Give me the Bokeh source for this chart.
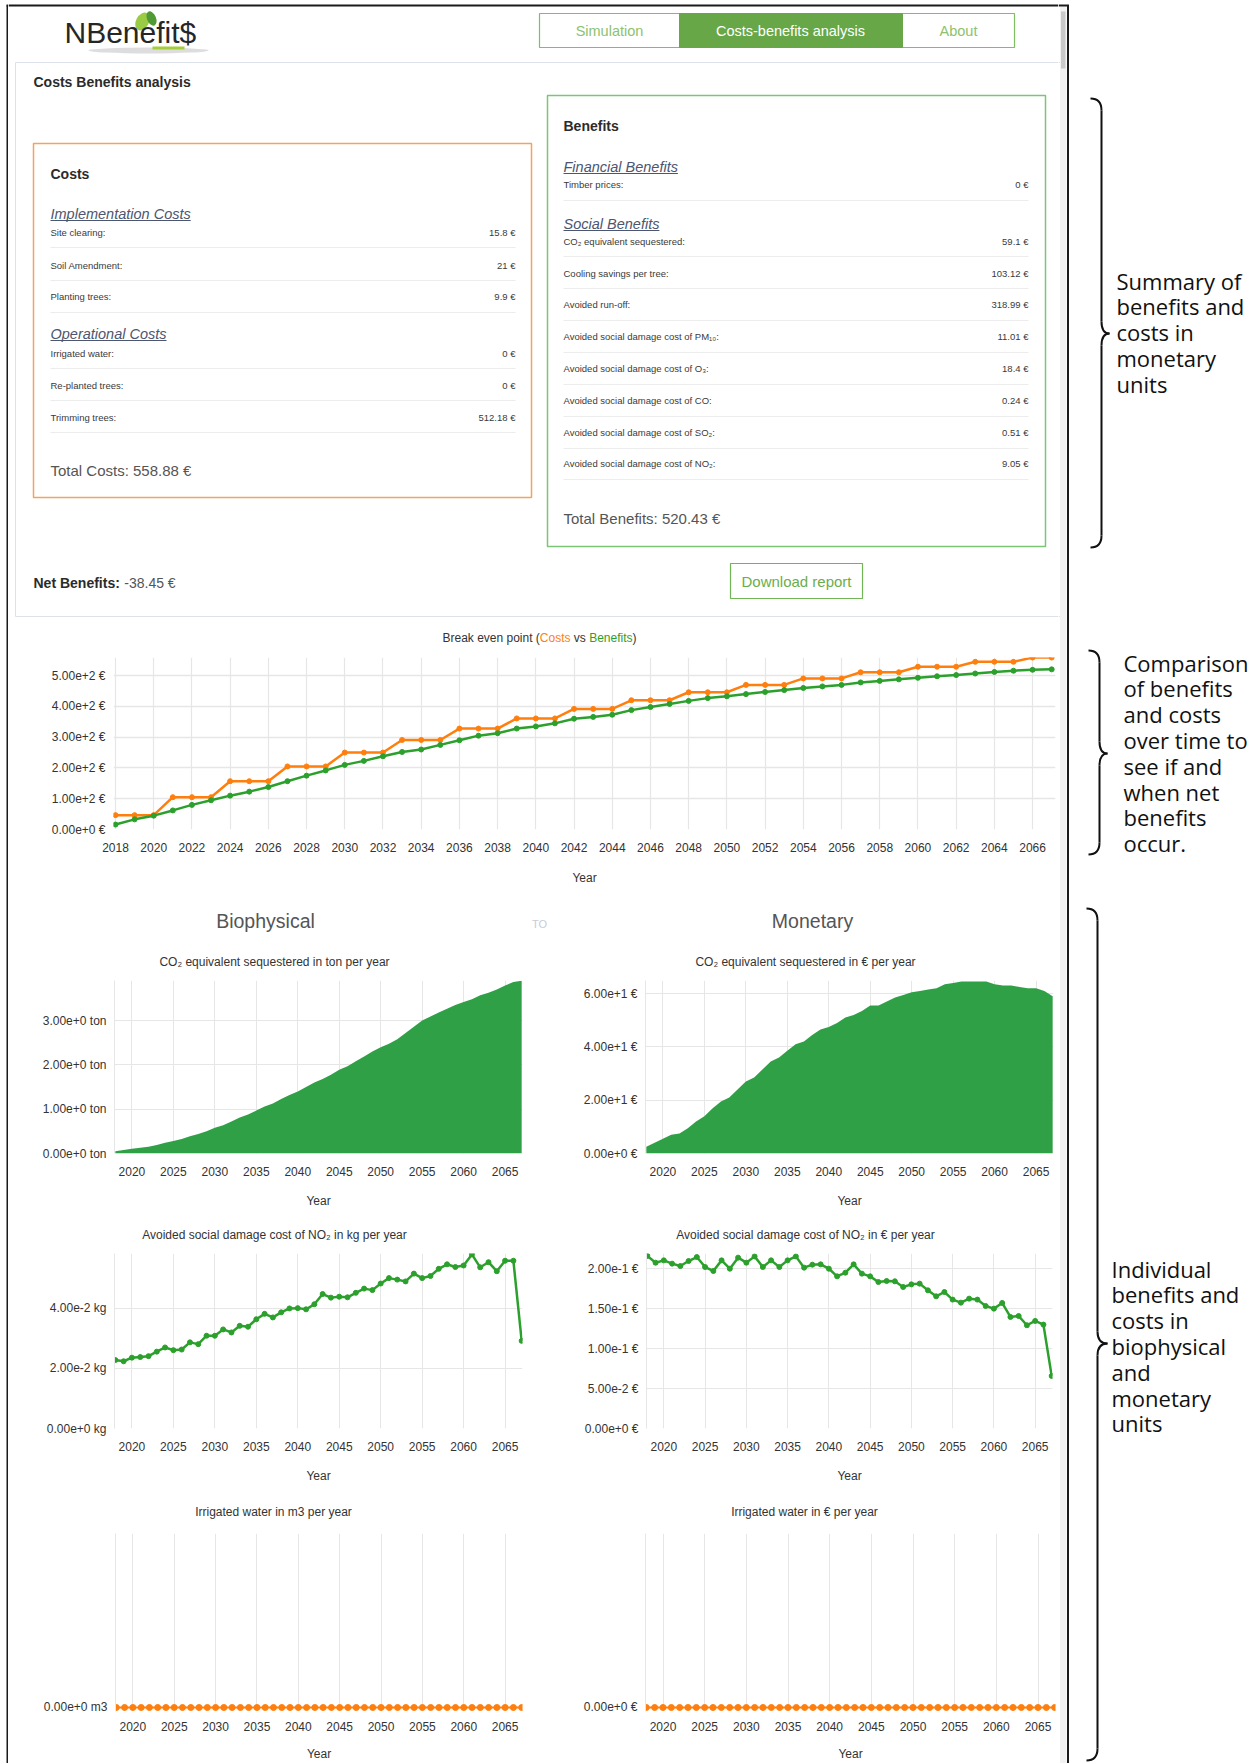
from bokeh.plotting import figure
from bokeh.layouts import column, row
from bokeh.models import Range1d, FixedTicker, CustomJSTickFormatter
from bokeh.core.properties import value
from bokeh.embed import file_html
from bokeh.resources import INLINE

# ---------------------------------------------------------------- data
YEARS = list(range(2018, 2068))

COSTS_CUM = [46.7, 46.7, 46.7, 105, 105, 105, 157, 157, 157, 205, 205, 205,
             250, 250, 250, 291, 291, 291, 328, 328, 328, 361, 361, 361,
             392, 392, 392, 420, 420, 420, 446, 446, 446, 470, 470, 470,
             491, 491, 491, 511, 511, 511, 529, 529, 529, 545, 545, 545,
             558.88, 558.88]
BENEFITS_CUM = [16, 33, 45, 62, 80, 95, 110, 123, 138, 157,
                175, 192, 210, 223, 238, 252, 260, 275, 290, 305,
                313, 328, 335, 345, 360, 366, 373, 388, 398, 408,
                418, 427, 433, 440, 447, 453, 460, 465, 470, 478,
                483, 488, 493, 498, 502, 507, 512, 516, 519, 520.43]
CO2_TON = [0.05, 0.08, 0.11, 0.13, 0.15, 0.19, 0.24, 0.28, 0.33, 0.39,
           0.44, 0.50, 0.58, 0.64, 0.72, 0.81, 0.88, 0.97, 1.06, 1.13,
           1.23, 1.32, 1.40, 1.50, 1.60, 1.68, 1.78, 1.89, 1.97, 2.08,
           2.19, 2.30, 2.40, 2.48, 2.58, 2.72, 2.86, 3.00, 3.09, 3.18,
           3.27, 3.35, 3.42, 3.48, 3.57, 3.63, 3.70, 3.79, 3.87, 3.90]
CO2_EUR = [2.5, 4, 5.5, 7, 7.5, 9.5, 12, 14, 17, 19.5,
           21, 24, 27, 28.5, 31.5, 34.5, 36, 38.5, 41, 42,
           44.5, 46.5, 47.5, 49, 51, 52, 53.5, 55.5, 55.5, 57,
           58.5, 59.5, 60.5, 61, 61.5, 62, 63.5, 64, 64.5, 64.5,
           64.5, 64.5, 63.5, 63, 63, 62.5, 62, 62, 61, 59]
NO2_KG = [0.0228, 0.0224, 0.0236, 0.0238, 0.0241, 0.0256, 0.0270, 0.0261, 0.0263, 0.0287,
          0.0281, 0.0309, 0.0309, 0.0330, 0.0320, 0.0342, 0.0339, 0.0364, 0.0382, 0.0370,
          0.0387, 0.0400, 0.0401, 0.0397, 0.0414, 0.0448, 0.0436, 0.0439, 0.0437, 0.0452,
          0.0466, 0.0461, 0.0483, 0.0501, 0.0496, 0.0490, 0.0516, 0.0501, 0.0508, 0.0532,
          0.0547, 0.0538, 0.0543, 0.0580, 0.0537, 0.0554, 0.0524, 0.0559, 0.0559, 0.0292]
NO2_EUR = [0.2160, 0.2075, 0.2104, 0.2063, 0.2033, 0.2096, 0.2146, 0.2021, 0.1971, 0.2104,
           0.2000, 0.2138, 0.2075, 0.2154, 0.2021, 0.2104, 0.2021, 0.2104, 0.2154, 0.2013,
           0.2050, 0.2054, 0.2000, 0.1904, 0.1950, 0.2054, 0.1938, 0.1904, 0.1833, 0.1846,
           0.1842, 0.1771, 0.1804, 0.1813, 0.1729, 0.1654, 0.1708, 0.1613, 0.1575, 0.1625,
           0.1613, 0.1533, 0.1500, 0.1571, 0.1396, 0.1408, 0.1292, 0.1346, 0.1300, 0.0658]
IRR_M3 = [0, 0, 0, 0, 0, 0, 0, 0, 0, 0, 0, 0, 0, 0, 0, 0, 0, 0, 0, 0, 0, 0, 0, 0, 0,
          0, 0, 0, 0, 0, 0, 0, 0, 0, 0, 0, 0, 0, 0, 0, 0, 0, 0, 0, 0, 0, 0, 0, 0, 0]
IRR_EUR = [0, 0, 0, 0, 0, 0, 0, 0, 0, 0, 0, 0, 0, 0, 0, 0, 0, 0, 0, 0, 0, 0, 0, 0, 0,
           0, 0, 0, 0, 0, 0, 0, 0, 0, 0, 0, 0, 0, 0, 0, 0, 0, 0, 0, 0, 0, 0, 0, 0, 0]

BREAK_X_TICKS = [2018, 2020, 2022, 2024, 2026, 2028, 2030, 2032, 2034, 2036, 2038, 2040, 2042,
                 2044, 2046, 2048, 2050, 2052, 2054, 2056, 2058, 2060, 2062, 2064, 2066]
BREAK_Y_TICKS = [0, 100, 200, 300, 400, 500]
YEAR_TICKS = [2020, 2025, 2030, 2035, 2040, 2045, 2050, 2055, 2060, 2065]
CO2_TON_TICKS = [0, 1, 2, 3]
CO2_EUR_TICKS = [0, 20, 40, 60]
NO2_KG_TICKS = [0, 0.02, 0.04]
NO2_EUR_TICKS = [0, 0.05, 0.1, 0.15, 0.2]
IRR_TICKS = [0]

NAV_ITEMS = ["Simulation", "Costs-benefits analysis", "About"]
COST_IMPL_LABELS = ["Site clearing:", "Soil Amendment:", "Planting trees:"]
COST_IMPL_VALUES = ["15.8 €", "21 €", "9.9 €"]
COST_OPER_LABELS = ["Irrigated water:", "Re-planted trees:", "Trimming trees:"]
COST_OPER_VALUES = ["0 €", "0 €", "512.18 €"]
BEN_FIN_LABELS = ["Timber prices:"]
BEN_FIN_VALUES = ["0 €"]
BEN_SOC_LABELS = ["CO₂ equivalent sequestered:", "Cooling savings per tree:", "Avoided run-off:",
                  "Avoided social damage cost of PM₁₀:", "Avoided social damage cost of O₃:",
                  "Avoided social damage cost of CO:", "Avoided social damage cost of SO₂:",
                  "Avoided social damage cost of NO₂:"]
BEN_SOC_VALUES = ["59.1 €", "103.12 €", "318.99 €", "11.01 €", "18.4 €", "0.24 €", "0.51 €", "9.05 €"]
TOTAL_COSTS = "Total Costs: 558.88 €"
TOTAL_BENEFITS = "Total Benefits: 520.43 €"
NET_BENEFITS = "-38.45 €"

NOTE_1 = ["Summary of", "benefits and", "costs in", "monetary", "units"]
NOTE_2 = ["Comparison", "of benefits", "and costs", "over time to", "see if and", "when net",
          "benefits", "occur."]
NOTE_3 = ["Individual", "benefits and", "costs in", "biophysical", "and", "monetary", "units"]

# ---------------------------------------------------------------- style
ORANGE = "#ff7f0e"
GREEN = "#2ca02c"
AREA_GREEN = "#30a046"
GRID = "#e6e6e6"
FONT = "Liberation Sans"
FRAME = "#1a1a1a"

_W = {}
for chars, w in [(" .:,fItI", 278), ("ijl", 222), ("r()-", 333), ("csvxyzkJ", 500),
                 ("abdeghnopqu0123456789$€L", 556), ("+", 584), ("FTZ", 611),
                 ("ABEKPSVXY", 667), ("CDHNRUw", 722), ("GOQ", 778), ("mM", 833), ("W", 944)]:
    for c in chars:
        _W[c] = w


def tw(s, size, bold=False):
    f = 1.08 if bold else 1.0
    return sum(_W.get(c, 556) for c in s) * size * f / 1000.0


def pix_fig(w, h, x0, y0):
    p = figure(width=w, height=h, x_range=Range1d(x0, x0 + w), y_range=Range1d(y0 + h, y0),
               output_backend="svg", toolbar_location=None, min_border=0,
               x_axis_location=None, y_axis_location=None)
    p.grid.visible = False
    p.outline_line_color = None
    p.background_fill_color = "white"
    p.border_fill_color = "white"
    return p


def txt(p, x, y, s, size, color="#333333", align="left", baseline="middle",
        style="normal", font=FONT):
    p.text(x=[x], y=[y], text=[s], text_font=value(font), text_font_size=f"{size}px",
           text_color=color, text_align=align, text_baseline=baseline, text_font_style=style)


# ---------------------------------------------------------------- left page border
X0 = 8
W_LEFT = 1050          # ref x 8..1058
XA = X0 + W_LEFT       # annotation column starts here
border = pix_fig(X0, 1763, 0, 0)
border.segment(x0=[7], y0=[5], x1=[7], y1=[1763], line_color=FRAME, line_width=2)
border.segment(x0=[6], y0=[5], x1=[8], y1=[5], line_color=FRAME, line_width=2)

# ---------------------------------------------------------------- top panel (ref y 0..650)
top = pix_fig(W_LEFT, 650, X0, 0)
top.segment(x0=[X0], y0=[5], x1=[XA], y1=[5], line_color=FRAME, line_width=2)

# logo
top.ellipse(x=[148], y=[50], width=120, height=6, fill_color="#d4d4d4", line_color=None, fill_alpha=0.8)
top.segment(x0=[152], y0=[47.5], x1=[184], y1=[47.5], line_color="#a4cf3a", line_width=3)
top.ellipse(x=[142], y=[21], width=13, height=19, angle=-0.5, fill_color="#9acb45", line_color=None)
top.ellipse(x=[151], y=[18], width=9, height=15, angle=0.4, fill_color="#4f9a34", line_color=None)
txt(top, 64, 32, "NBenefit$", 30, color="#262626")

# navigation
top.quad(left=[539], right=[1014], top=[13], bottom=[47], fill_color="white", line_color="#7fbf63", line_width=1.2)
top.quad(left=[679], right=[902], top=[13], bottom=[47], fill_color="#67a748", line_color="#67a748")
txt(top, 609, 30, NAV_ITEMS[0], 14.5, color="#8dc26f", align="center")
txt(top, 790, 30, NAV_ITEMS[1], 14.5, color="white", align="center")
txt(top, 958, 30, NAV_ITEMS[2], 14.5, color="#8dc26f", align="center")

# card (its right edge continues in the annotation figure)
top.quad(left=[15], right=[1062], top=[62], bottom=[616], fill_color="white", line_color="#dde2ea", line_width=1)
txt(top, 33, 81, "Costs Benefits analysis", 14, color="#2b2b2b", style="bold")

# costs box
top.quad(left=[33], right=[531], top=[143], bottom=[497], fill_color=None, line_color="#f4a25c", line_width=1.5)
txt(top, 50, 173, "Costs", 14, color="#2b2b2b", style="bold")


def section(p, x, xr, y, head, labels, vals, ys, seps):
    txt(p, x, y, head, 14.5, color="#4c5670", style="italic")
    p.segment(x0=[x], y0=[y + 7], x1=[x + tw(head, 14.5)], y1=[y + 7], line_color="#4c5670", line_width=1)
    for lab, v, yy, ss in zip(labels, vals, ys, seps):
        txt(p, x, yy, lab, 9.5, color="#3a3a3a")
        txt(p, xr, yy, v, 9.5, color="#3a3a3a", align="right")
        p.segment(x0=[x], y0=[ss], x1=[xr], y1=[ss], line_color="#ececec", line_width=1.2)


section(top, 50, 515, 213, "Implementation Costs", COST_IMPL_LABELS, COST_IMPL_VALUES,
        [232, 265, 296], [247, 280, 312])
section(top, 50, 515, 333, "Operational Costs", COST_OPER_LABELS, COST_OPER_VALUES,
        [353, 385, 417], [368, 400, 432])
txt(top, 50, 470, TOTAL_COSTS, 15, color="#555555")

# benefits box
top.quad(left=[547], right=[1045], top=[95], bottom=[546], fill_color=None, line_color="#7cc576", line_width=1.5)
txt(top, 563, 125, "Benefits", 14, color="#2b2b2b", style="bold")
section(top, 563, 1028, 166, "Financial Benefits", BEN_FIN_LABELS, BEN_FIN_VALUES, [184], [200])
section(top, 563, 1028, 223, "Social Benefits", BEN_SOC_LABELS, BEN_SOC_VALUES,
        [241, 273, 304, 336, 368, 400, 432, 463], [256, 288, 320, 352, 384, 416, 448, 479])
txt(top, 563, 518, TOTAL_BENEFITS, 15, color="#555555")

# net benefits + button
txt(top, 33, 582, "Net Benefits:", 14, color="#2b2b2b", style="bold")
txt(top, 33 + tw("Net Benefits: ", 14, bold=True), 582, NET_BENEFITS, 14, color="#555555")
top.quad(left=[730], right=[862], top=[563], bottom=[598], fill_color="white", line_color="#72b556", line_width=1.2)
txt(top, 796, 581, "Download report", 15, color="#6aae4c", align="center")

# break-even title (multi-coloured)
pieces = [("Break even point (", "#333333"), ("Costs", ORANGE), (" vs ", "#333333"),
          ("Benefits", GREEN), (")", "#333333")]
total_w = sum(tw(s, 12) for s, _ in pieces)
cx = 539 - total_w / 2
for s, c in pieces:
    lead = len(s) - len(s.lstrip(" "))
    txt(top, cx + tw(" " * lead, 12), 637, s.strip(" "), 12, color=c)
    cx += tw(s, 12)


# ---------------------------------------------------------------- chart helper
def chart(w, h, fl, fr, ft, fb, xr, yr, xticks, yticks, unit,
          tick_std=13, label_std=15, left_line=True):
    p = figure(width=w, height=h, x_range=Range1d(*xr), y_range=Range1d(*yr),
               output_backend="svg", toolbar_location=None,
               min_border_left=fl, min_border_right=w - fr,
               min_border_top=ft, min_border_bottom=h - fb)
    p.outline_line_color = None
    p.background_fill_color = "white"
    p.border_fill_color = "white"
    p.xaxis.ticker = FixedTicker(ticks=xticks)
    p.yaxis.ticker = FixedTicker(ticks=yticks)
    p.yaxis.formatter = CustomJSTickFormatter(code="return tick.toExponential(2) + ' %s';" % unit)
    for ax in (p.xaxis[0], p.yaxis[0]):
        ax.major_tick_line_color = None
        ax.minor_tick_line_color = None
        ax.major_tick_in = 0
        ax.major_tick_out = 0
        ax.minor_tick_in = 0
        ax.minor_tick_out = 0
        ax.major_label_text_font = FONT
        ax.major_label_text_font_size = "12px"
        ax.major_label_text_color = "#333333"
    p.yaxis.major_label_standoff = 8
    p.xaxis.major_label_standoff = tick_std
    p.xaxis.axis_line_color = None
    p.yaxis.axis_line_color = GRID if left_line else None
    p.xaxis.axis_label = "Year"
    p.xaxis.axis_label_text_font = FONT
    p.xaxis.axis_label_text_font_size = "12px"
    p.xaxis.axis_label_text_font_style = "normal"
    p.xaxis.axis_label_text_color = "#333333"
    p.xaxis.axis_label_standoff = label_std
    p.xgrid.grid_line_color = GRID
    p.ygrid.grid_line_color = GRID
    return p


# break-even chart (ref y 650..897), frame x 113..1055, y 657..829
brk = chart(W_LEFT, 247, 105, 1047, 7, 179, (2017.895, 2067.2), (0, 559),
            BREAK_X_TICKS, BREAK_Y_TICKS, "€", tick_std=13, label_std=16, left_line=False)
brk.xgrid.grid_line_width = 1.2
brk.ygrid.grid_line_width = 1.5
brk.line(YEARS, COSTS_CUM, line_color=ORANGE, line_width=2.5)
brk.scatter(YEARS, COSTS_CUM, size=5, color=ORANGE)
brk.line(YEARS, BENEFITS_CUM, line_color=GREEN, line_width=2.5)
brk.scatter(YEARS, BENEFITS_CUM, size=5, color=GREEN)

# strip 1 (ref 897..970): headings + titles
s1 = pix_fig(W_LEFT, 73, X0, 897)
txt(s1, 265, 920, "Biophysical", 19.5, color="#555555", align="center")
txt(s1, 539, 923, "TO", 11, color="#c6cdd9", align="center")
txt(s1, 812, 920, "Monetary", 19.5, color="#555555", align="center")
txt(s1, 274, 961, "CO₂ equivalent sequestered in ton per year", 12, align="center")
txt(s1, 805, 961, "CO₂ equivalent sequestered in € per year", 12, align="center")

XR = (2017.9, 2067.1)
WL, WR = 530, W_LEFT - 530   # ref 8..538 and 538..1058

# CO2 row (ref 970..1212)
co2_b = chart(WL, 242, 106, 514, 10, 183, XR, (0, 3.905), YEAR_TICKS, CO2_TON_TICKS, "ton")
co2_b.varea(x=YEARS, y1=0, y2=CO2_TON, fill_color=AREA_GREEN)
co2_m = chart(WR, 242, 107, 515, 10, 184, XR, (0, 64.9), YEAR_TICKS, CO2_EUR_TICKS, "€")
co2_m.varea(x=YEARS, y1=0, y2=CO2_EUR, fill_color=AREA_GREEN)

# strip 2 (ref 1212..1245)
s2 = pix_fig(W_LEFT, 33, X0, 1212)
txt(s2, 274, 1234, "Avoided social damage cost of NO₂ in kg per year", 12, align="center")
txt(s2, 805, 1234, "Avoided social damage cost of NO₂ in € per year", 12, align="center")

# NO2 row (ref 1245..1490)
no2_b = chart(WL, 245, 106, 514, 8, 183, XR, (0, 0.0583), YEAR_TICKS, NO2_KG_TICKS, "kg")
no2_b.line(YEARS, NO2_KG, line_color=GREEN, line_width=2.5)
no2_b.scatter(YEARS, NO2_KG, size=5, color=GREEN)
no2_m = chart(WR, 245, 108, 514, 8, 183, XR, (0, 0.219), YEAR_TICKS, NO2_EUR_TICKS, "€")
no2_m.line(YEARS, NO2_EUR, line_color=GREEN, line_width=2.5)
no2_m.scatter(YEARS, NO2_EUR, size=5, color=GREEN)

# strip 3 (ref 1490..1522)
s3 = pix_fig(W_LEFT, 32, X0, 1490)
txt(s3, 273, 1511, "Irrigated water in m3 per year", 12, align="center")
txt(s3, 804, 1511, "Irrigated water in € per year", 12, align="center")

# irrigation row (ref 1522..1763), frame 1533..1711, zero at 1707
irr_b = chart(WL, 241, 107, 514, 11, 189, XR, (-0.023, 1), YEAR_TICKS, IRR_TICKS, "m3",
              tick_std=10, label_std=13)
irr_b.line(YEARS, IRR_M3, line_color=ORANGE, line_width=2)
irr_b.scatter(YEARS, IRR_M3, size=6, color=ORANGE)
irr_m = chart(WR, 241, 107, 517, 11, 189, XR, (-0.023, 1), YEAR_TICKS, IRR_TICKS, "€",
              tick_std=10, label_std=13)
irr_m.line(YEARS, IRR_EUR, line_color=ORANGE, line_width=2)
irr_m.scatter(YEARS, IRR_EUR, size=6, color=ORANGE)

# ---------------------------------------------------------------- annotation column (ref x 1058..1260)
ann = pix_fig(1260 - XA, 1763, XA, 0)
# card right edge
ann.segment(x0=[XA, XA, 1062], y0=[62, 616, 62], x1=[1062, 1062, 1062], y1=[62, 616, 616],
            line_color="#dde2ea", line_width=1)
# scrollbar
ann.quad(left=[1059.5], right=[1066], top=[6], bottom=[1763], fill_color="#f1f1f1", line_color=None)
ann.quad(left=[1060.5], right=[1065], top=[11, 691, 1590], bottom=[68, 776, 1663],
         fill_color="#c9c9c9", line_color=None)
# page frame
ann.segment(x0=[1067.5], y0=[5], x1=[1067.5], y1=[1763], line_color=FRAME, line_width=2)
ann.segment(x0=[XA], y0=[5], x1=[1068.5], y1=[5], line_color=FRAME, line_width=2)


def brace(p, xe, xl, xt, y0, y1, ym, r=12):
    kw = dict(line_color="#111111", line_width=2)
    p.quadratic(x0=[xe, xl, xt, xl], y0=[y0, ym - r, ym, y1 - r],
                x1=[xl, xt, xl, xe], y1=[y0 + r, ym, ym + r, y1],
                cx=[xl, xl, xl, xl], cy=[y0, ym, ym, y1], **kw)
    p.segment(x0=[xl, xl], y0=[y0 + r, ym + r], x1=[xl, xl], y1=[ym - r, y1 - r], **kw)


brace(ann, 1090, 1101, 1109, 98, 547, 333)
brace(ann, 1088, 1099, 1107, 650, 854, 753)
brace(ann, 1086, 1097, 1107, 908, 1760, 1343)

for lines, x0, y0 in [(NOTE_1, 1116, 280), (NOTE_2, 1123, 662), (NOTE_3, 1111, 1268)]:
    for i, s in enumerate(lines):
        txt(ann, x0, y0 + 25.8 * i, s, 22, color="#111111", font="Open Sans")

# ---------------------------------------------------------------- layout
left = column(row(top), row(brk), row(s1), row(co2_b, co2_m), row(s2), row(no2_b, no2_m),
              row(s3), row(irr_b, irr_m))
page = row(border, left, ann)

open("out.html", "w").write(file_html(page, INLINE))
